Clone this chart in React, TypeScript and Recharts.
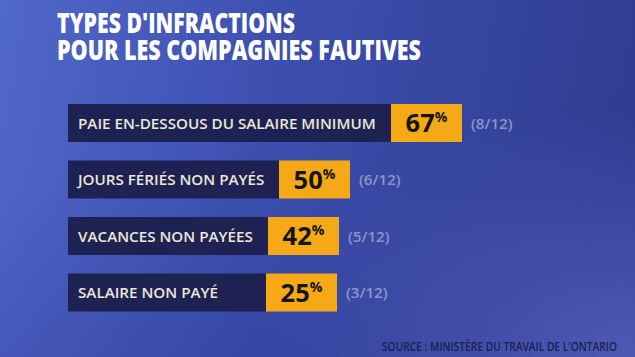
import { BarChart, Bar, XAxis, YAxis } from 'recharts';

const categories = [
  'PAIE EN-DESSOUS DU SALAIRE MINIMUM',
  'JOURS FÉRIÉS NON PAYÉS',
  'VACANCES NON PAYÉES',
  'SALAIRE NON PAYÉ',
];
const percents = [67, 50, 42, 25];
const companies = [8, 6, 5, 3];
const totalCompanies = 12;

const titleLines = ["TYPES D'INFRACTIONS", 'POUR LES COMPAGNIES FAUTIVES'];
const source = "SOURCE : MINISTÈRE DU TRAVAIL DE L'ONTARIO";

const LABEL_FONT = '600 15.2px "Open Sans"';
const BADGE = 71;

// dark box is as wide as its label, with a minimum
function measure(text: string) {
  const c = document.createElement('canvas').getContext('2d');
  if (!c) return text.length * 8.8;
  c.font = LABEL_FONT;
  return c.measureText(text).width;
}

const data = categories.map((label, i) => ({
  label,
  pct: percents[i],
  count: `(${companies[i]}/${totalCompanies})`,
  box: Math.max(Math.round(measure(label)) + 25, 198),
  badge: BADGE,
}));

const LabelBox = (p: any) => (
  <g>
    <rect x={p.x} y={p.y} width={p.width} height={p.height} fill="#1d2253" />
    <text x={p.x + 10} y={p.y + p.height / 2 + 5.5} fill="#ece9d6"
      style={{ font: LABEL_FONT }}>{p.payload.label}</text>
  </g>
);

const Badge = (p: any) => (
  <g>
    <rect x={p.x} y={p.y} width={p.width} height={p.height} fill="#f6a917" />
    <text x={p.x + p.width / 2} y={p.y + p.height / 2 + 9} textAnchor="middle" fill="#151515"
      fontFamily="Open Sans" fontWeight={700} fontSize={25.5}>
      {p.payload.pct}<tspan fontSize={14} dy={-10}>%</tspan>
    </text>
    <text x={p.x + p.width + 9} y={p.y + p.height / 2 + 5.5} fill="#8c95c8"
      style={{ font: LABEL_FONT }}>{p.payload.count}</text>
  </g>
);

export default function App() {
  return (
    <div style={{
      position: 'absolute', left: 0, top: 0, width: 635, height: 357, overflow: 'hidden',
      background:
        'radial-gradient(ellipse 60% 70% at 100% 100%, rgba(78,92,185,0.95), rgba(78,92,185,0) 100%),' +
        'linear-gradient(170deg, rgba(0,0,0,0) 40%, rgba(40,50,140,0.35) 100%),' +
        'linear-gradient(100deg, #5068ca 0%, #3d50b0 40%, #2e3a8c 100%)',
    }}>
      <svg width={635} height={70} style={{ position: 'absolute', left: 0, top: 0 }}>
        {titleLines.map((t, i) => (
          <text key={t} x={57} y={33 + i * 27} fill="#ffffff" fontFamily="Open Sans" fontWeight={800}
            fontSize={27.5} textLength={i === 0 ? 238 : 364} lengthAdjust="spacingAndGlyphs">{t}</text>
        ))}
      </svg>
      <BarChart width={635} height={357} layout="vertical" data={data}
        margin={{ top: 95, right: 0, bottom: 36, left: 68 }} barCategoryGap={0}
        style={{ position: 'absolute', left: 0, top: 0 }}>
        <XAxis type="number" domain={[0, 567]} hide />
        <YAxis type="category" dataKey="label" hide />
        <Bar dataKey="box" stackId="a" barSize={38} shape={LabelBox} isAnimationActive={false} />
        <Bar dataKey="badge" stackId="a" barSize={38} shape={Badge} isAnimationActive={false} />
      </BarChart>
      <svg width={635} height={357} style={{ position: 'absolute', left: 0, top: 0, pointerEvents: 'none' }}>
        <text x={382} y={351} fill="#1a1f4c" fontFamily="Open Sans" fontWeight={600} fontSize={12}
          textLength={235} lengthAdjust="spacingAndGlyphs">{source}</text>
      </svg>
    </div>
  );
}
